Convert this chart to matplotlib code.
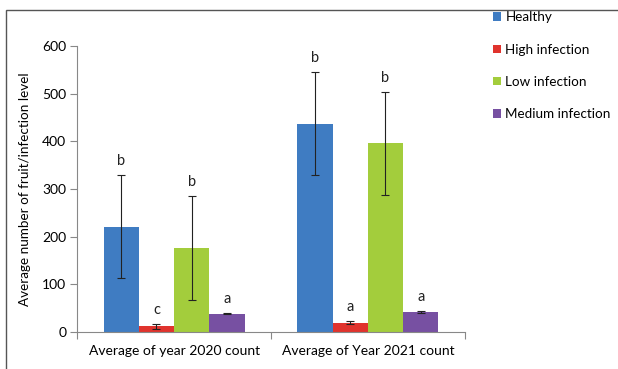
import numpy as np
import matplotlib
matplotlib.use('Agg')
import matplotlib.pyplot as plt
from matplotlib.patches import Rectangle

plt.rcParams['font.family'] = ['Lato', 'DejaVu Sans']

## data -----
groups = ['Average of year 2020 count', 'Average of Year 2021 count']
levels = ['Healthy', 'High infection', 'Low infection', 'Medium infection']
means = {
    'Healthy': [221, 437],
    'High infection': [12, 20],
    'Low infection': [177, 396],
    'Medium infection': [39, 42],
}
errs = {
    'Healthy': [108, 108],
    'High infection': [5, 4],
    'Low infection': [109, 108],
    'Medium infection': [1, 2],
}
letters = {
    'Healthy': ['b', 'b'],
    'High infection': ['c', 'a'],
    'Low infection': ['b', 'b'],
    'Medium infection': ['a', 'a'],
}
colors = ['#3F7CC2', '#E0332D', '#A3CD3C', '#7750A2']

## plot -----
fig = plt.figure(figsize=(6.18, 3.69), dpi=100)
ax = fig.add_axes([0.125, 0.10, 0.627, 0.775])

x = np.arange(len(groups))
w = 0.182
for i, lv in enumerate(levels):
    pos = x + (i - 1.5) * w
    ax.bar(pos, means[lv], w, color=colors[i], label=lv)
    ax.errorbar(pos, means[lv], yerr=errs[lv], fmt='none', ecolor='#222222',
                elinewidth=0.8, capsize=3, capthick=0.8)
    for p, m, e, t in zip(pos, means[lv], errs[lv], letters[lv]):
        ax.annotate(t, (p, m + e), xytext=(0, 5), textcoords='offset points',
                    ha='center', va='bottom', fontsize=10.5, color='#222222')

ax.set_xlim(-0.5, 1.5)
ax.set_ylim(0, 600)
ax.set_yticks(range(0, 601, 100))
ax.set_xticks([-0.5, 0.5, 1.5], minor=False)
ax.set_xticklabels([])
ax.set_xticks(x, minor=True)
ax.set_xticklabels(groups, minor=True, fontsize=10)
ax.tick_params(axis='x', which='minor', length=0, pad=9)
ax.tick_params(axis='x', which='major', length=5, color='#888888', direction='out')
ax.tick_params(axis='y', length=5, color='#888888', labelsize=10, pad=3)
for s in ['top', 'right']:
    ax.spines[s].set_visible(False)
for s in ['left', 'bottom']:
    ax.spines[s].set_color('#888888')
ax.set_ylabel('Average number of fruit/infection level', fontsize=9.7, labelpad=8)

ax.legend(loc='upper left', bbox_to_anchor=(1.06, 1.14), frameon=False,
          fontsize=9.7, handlelength=0.6, handleheight=0.6, handletextpad=0.3,
          labelspacing=1.5, borderaxespad=0)

# outer frame
fig.patches.append(Rectangle((0.01, -0.5), 2, 1.473, transform=fig.transFigure,
                             fill=False, edgecolor='#555555', linewidth=1))

fig.savefig('out.png', dpi=100)
